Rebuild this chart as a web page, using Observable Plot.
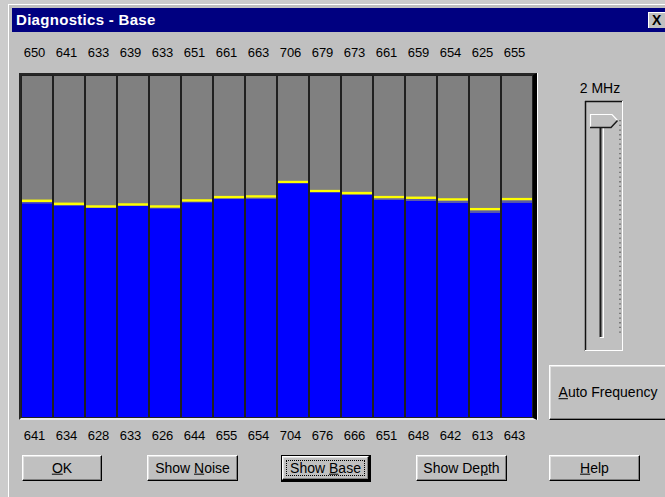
<!DOCTYPE html>
<html>
<head>
<meta charset="utf-8">
<script src="https://cdn.jsdelivr.net/npm/d3@7"></script>
<script src="https://cdn.jsdelivr.net/npm/@observablehq/plot@0.6"></script>
<style>
  html, body { margin:0; padding:0; }
  body { width:665px; height:497px; overflow:hidden; background:#cccccc; position:relative;
         font-family:"Liberation Sans", Arial, sans-serif; }
  .abs { position:absolute; }
  #dialog { left:8px; top:4px; width:700px; height:520px; background:#c0c0c0;
            border-top:1px solid #ffffff; border-left:1px solid #ffffff; box-sizing:border-box; }
  #titlebar { left:12px; top:8px; width:660px; height:24px; background:#000080; }
  #title { left:16px; top:8px; height:24px; line-height:24px; color:#fff; font-weight:bold;
           font-size:15px; letter-spacing:0.3px; }
  #close { left:648px; top:12px; width:20px; height:16px; background:#c0c0c0; box-sizing:border-box;
           border-top:1px solid #fff; border-left:1px solid #fff; font-weight:bold; font-size:14px;
           line-height:14px; padding-left:3px; color:#000; }
  .btn { box-sizing:border-box; background:#c0c0c0; border:1px solid; border-color:#fff #000 #000 #fff;
         box-shadow: inset -1px -1px #808080, inset 1px 1px #dfdfdf;
         font-size:14px; letter-spacing:0px; color:#000; text-align:center; }
  .btn span { position:absolute; left:0; right:0; top:50%; transform:translateY(-52%); }
  #chartwrap { left:0; top:40px; line-height:0; }
  #chartwrap svg { display:block; }
  #plotborder { left:19px; top:73px; width:512px; height:343px; box-sizing:content-box;
                border-top:2px solid #262626; border-left:2px solid #262626;
                border-right:4px solid #000; border-bottom:2px solid #ececec;
                box-shadow: 1px 0 0 #ffffff; pointer-events:none; }
  #mhz { left:570px; width:60px; top:80px; text-align:center; font-size:14px; }
</style>
</head>
<body>
<div id="dialog" class="abs"></div>
<div id="titlebar" class="abs"></div>
<div id="title" class="abs">Diagnostics - Base</div>
<div id="close" class="abs">X</div>

<div id="chartwrap" class="abs"></div>
<div id="plotborder" class="abs"></div>

<div id="mhz" class="abs">2 MHz</div>
<svg class="abs" style="left:0;top:0" width="665" height="497">
  <line x1="585.5" y1="101" x2="585.5" y2="351" stroke="#111" stroke-width="1.5"/>
  <line x1="585" y1="101.5" x2="623" y2="101.5" stroke="#111" stroke-width="1.5"/>
  <line x1="622.5" y1="101" x2="622.5" y2="351" stroke="#ffffff" stroke-width="1"/>
  <line x1="585" y1="350.5" x2="623" y2="350.5" stroke="#ffffff" stroke-width="1"/>
  <line x1="600.5" y1="126" x2="600.5" y2="337" stroke="#1a1a1a" stroke-width="2"/>
  <line x1="603.5" y1="126" x2="603.5" y2="337.5" stroke="#ffffff" stroke-width="1"/>
  <line x1="600" y1="337.5" x2="604" y2="337.5" stroke="#ffffff" stroke-width="1"/>
  <line x1="620" y1="120" x2="620" y2="334" stroke="#555" stroke-width="1.3" stroke-dasharray="1.3 3.4"/>
  <polygon points="590,114 612,114 618,120.5 611,128 590,128" fill="#c0c0c0"/>
  <polyline points="590.5,128 590.5,114.5 612,114.5 617.5,120.5" fill="none" stroke="#ffffff" stroke-width="1.2"/>
  <polyline points="617.5,120.5 611,127.5 590,127.5" fill="none" stroke="#1a1a1a" stroke-width="1.5"/>
</svg>

<div class="abs btn" style="left:549px;top:365px;width:120px;height:55px;"><span style="transform:translateY(-55%);padding-right:2px"><u>A</u>uto Frequency</span></div>

<div class="abs btn" style="left:22px;top:455px;width:80px;height:26px;"><span><u>O</u>K</span></div>
<div class="abs btn" style="left:147px;top:455px;width:91px;height:26px;"><span>Show <u>N</u>oise</span></div>
<div class="abs" style="left:281px;top:455px;width:90px;height:27px;box-sizing:border-box;border:1px solid #000;border-right-width:2px;border-bottom-width:2px;">
  <div class="abs btn" style="left:0;top:0;width:87px;height:24px;">
    <div class="abs" style="left:3px;top:3px;right:3px;bottom:3px;border:1px dotted #000;"></div>
    <span>Show <u>B</u>ase</span>
  </div>
</div>
<div class="abs btn" style="left:416px;top:455px;width:91px;height:26px;"><span>Show De<u>p</u>th</span></div>
<div class="abs btn" style="left:549px;top:455px;width:91px;height:26px;"><span><u>H</u>elp</span></div>

<script>
// ---- data ----
const channels = ["1","2","3","4","5","6","7","8","9","10","11","12","13","14","15","16"];
const topValues    = [650, 641, 633, 639, 633, 651, 661, 663, 706, 679, 673, 661, 659, 654, 625, 655];
const bottomValues = [641, 634, 628, 633, 626, 644, 655, 654, 704, 676, 666, 651, 648, 642, 613, 643];
const fullScale = 1024;

const rows = channels.map((c, i) => ({ch: c, top: topValues[i], bottom: bottomValues[i]}));

const chart = Plot.plot({
  width: 560,
  height: 410,
  marginLeft: 21,
  marginRight: 27,
  marginTop: 35,
  marginBottom: 32,
  style: {fontFamily: "'Liberation Sans', Arial, sans-serif", fontSize: "13px", background: "transparent", overflow: "visible"},
  x: {type: "band", domain: channels, padding: 0, axis: null},
  y: {domain: [0, fullScale], axis: null},
  marks: [
    Plot.barY(rows, {x: "ch", y1: 0, y2: fullScale, fill: "#808080"}),
    Plot.barY(rows, {x: "ch", y1: 0, y2: "bottom", fill: "#0000ff"}),
    Plot.barY(rows, {x: "ch", y1: "bottom", y2: "top", fill: "#5a5aac"}),
    Plot.tickY(rows, {x: "ch", y: "top", stroke: "#ffff00", strokeWidth: 2.4}),
    Plot.barY(rows, {x: "ch", y1: 0, y2: fullScale, fill: "none", stroke: "#202020", strokeWidth: 2}),
    Plot.text(rows, {x: "ch", text: "top", frameAnchor: "top", dy: -28, dx: -3, fill: "#000"}),
    Plot.text(rows, {x: "ch", text: "bottom", frameAnchor: "bottom", dy: 21, dx: -3, fill: "#000"})
  ]
});
document.getElementById("chartwrap").appendChild(chart);
</script>
</body>
</html>
